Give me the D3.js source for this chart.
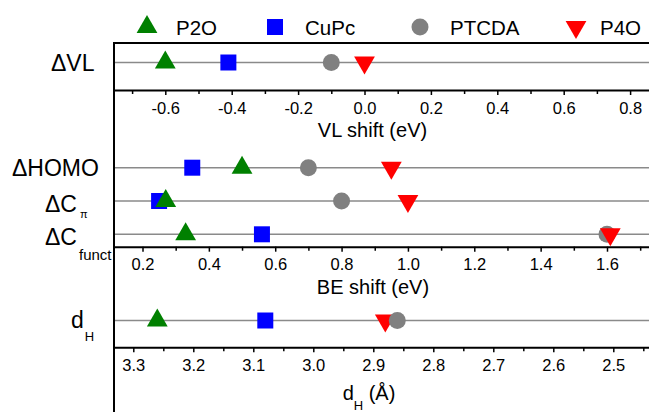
<!DOCTYPE html>
<html>
<head>
<meta charset="utf-8">
<script src="https://cdn.jsdelivr.net/npm/d3@7"></script>
<style>
  html, body { margin: 0; padding: 0; background: #fff; }
  svg { display: block; font-family: "Liberation Sans", Arial, sans-serif; }
</style>
</head>
<body>
<script>
// series (molecules) and their shifts
const series = ["P2O", "CuPc", "PTCDA", "P4O"];
const colors = ["#008000", "#0000ff", "#808080", "#ff0000"];

const vlShift = [-0.60, -0.41, -0.10, 0.00];
const beRows = ["HOMO", "Cpi", "Cfunct"];
const homoShift = [0.50, 0.35, 0.70, 0.95];
const cPiShift = [0.27, 0.25, 0.80, 1.00];
const cFunctShift = [0.33, 0.56, 1.60, 1.61];
const dH = [3.26, 3.08, 2.86, 2.88];

// tick labels
const vlTicks = [-0.6, -0.4, -0.2, 0.0, 0.2, 0.4, 0.6, 0.8];
const vlMinor = [-0.7, -0.5, -0.3, -0.1, 0.1, 0.3, 0.5, 0.7];
const beTicks = [0.2, 0.4, 0.6, 0.8, 1.0, 1.2, 1.4, 1.6];
const beMinor = [0.3, 0.5, 0.7, 0.9, 1.1, 1.3, 1.5, 1.7];
const dhTicks = [3.3, 3.2, 3.1, 3.0, 2.9, 2.8, 2.7, 2.6, 2.5];
const dhMinor = [3.25, 3.15, 3.05, 2.95, 2.85, 2.75, 2.65, 2.55, 2.45];

const width = 649;
const height = 412;
const plotL = 114;
const plotR = 649;

const svg = d3.select("body")
  .append("svg")
    .attr("width", width)
    .attr("height", height)
    .attr("viewBox", [0, 0, width, height]);

// x scales, widened out to the plot edges
function edgeScale(d0, d1, r0, r1) {
  const s = d3.scaleLinear().domain([d0, d1]).range([r0, r1]);
  return s.domain([s.invert(plotL), s.invert(plotR)]).range([plotL, plotR]);
}
const xVL = edgeScale(-0.6, 0.8, 165.3, 630.1);
const xBE = edgeScale(0.2, 1.6, 142.5, 607);
const xDH = edgeScale(3.3, 2.5, 133.3, 613.3);

// row positions
const yVL = d3.scalePoint().domain(["VL"]).range([43, 82]).padding(0.5);
const yBE = d3.scalePoint().domain(beRows).range([167.7, 234.3]);
const yDH = d3.scalePoint().domain(["dH"]).range([300, 341]).padding(0.5);

const symbols = [
  d3.symbol(d3.symbolTriangle, 187)(),
  d3.symbol(d3.symbolSquare, 256)(),
  d3.symbol(d3.symbolCircle, 227)(),
  d3.symbol(d3.symbolTriangle, 187)()
];
const rot = [0, 0, 0, 180];

// axis helper: labelled major ticks plus unlabelled minor ones
function drawAxis(x, y0, major, minor, fmt) {
  svg.append("g")
      .attr("transform", `translate(0,${y0})`)
      .call(d3.axisBottom(x).tickValues(minor).tickSize(4).tickSizeOuter(0).tickFormat(""))
      .call(g => g.select(".domain").remove())
      .call(g => g.selectAll(".tick line").attr("stroke-width", 1.5));
  svg.append("g")
      .attr("transform", `translate(0,${y0})`)
      .call(d3.axisBottom(x).tickValues(major).tickSize(5).tickSizeOuter(0).tickPadding(7).tickFormat(fmt))
      .call(g => g.select(".domain").attr("stroke-width", 2))
      .call(g => g.selectAll(".tick line").attr("stroke-width", 1.5))
      .call(g => g.selectAll(".tick text")
          .attr("font-size", 16.5)
          .attr("font-family", "Liberation Sans, Arial, sans-serif")
          .attr("fill", "#000"));
}

function drawRow(x, y, values, order) {
  svg.append("line")
      .attr("x1", plotL).attr("x2", plotR)
      .attr("y1", y).attr("y2", y)
      .attr("stroke", "#8a8a8a")
      .attr("stroke-width", 1.6);
  svg.append("g")
    .selectAll("path")
    .data(order)
    .join("path")
      .attr("d", i => symbols[i])
      .attr("fill", i => colors[i])
      .attr("transform", i => `translate(${x(values[i])},${y}) rotate(${rot[i]})`);
}

// plain hyphen for negatives, as in the original
const fmt1 = d => d3.format(".1f")(d).replace("−", "-");

// panel 1: VL shift
drawRow(xVL, yVL("VL"), vlShift, [1, 0, 2, 3]);
drawAxis(xVL, 90, vlTicks, vlMinor, fmt1);
svg.append("line")
    .attr("x1", plotL).attr("x2", plotR)
    .attr("y1", 43).attr("y2", 43)
    .attr("stroke", "#000").attr("stroke-width", 2);

// panel 2: BE shift
drawRow(xBE, yBE("HOMO"), homoShift, [1, 0, 2, 3]);
drawRow(xBE, yBE("Cpi"), cPiShift, [1, 0, 2, 3]);
drawRow(xBE, yBE("Cfunct"), cFunctShift, [1, 0, 2, 3]);
drawAxis(xBE, 246.7, beTicks, beMinor, fmt1);

// panel 3: dH
drawRow(xDH, yDH("dH"), dH, [1, 0, 3, 2]);
drawAxis(xDH, 347.3, dhTicks, dhMinor, fmt1);

// left axis
svg.append("line")
    .attr("x1", plotL).attr("x2", plotL)
    .attr("y1", 42).attr("y2", height)
    .attr("stroke", "#000").attr("stroke-width", 2);

// row labels
const lab = svg.append("g").attr("font-size", 23).attr("fill", "#000");
lab.append("text").attr("x", 51).attr("y", yVL("VL") + 8.5).text("ΔVL");
lab.append("text").attr("x", 12).attr("y", yBE("HOMO") + 8).text("ΔHOMO");
const tPi = lab.append("text").attr("x", 45).attr("y", yBE("Cpi") + 11);
tPi.append("tspan").text("ΔC");
tPi.append("tspan").attr("font-size", 11).attr("dx", 3).attr("dy", 6).text("π");
const tF = lab.append("text").attr("x", 45).attr("y", yBE("Cfunct") + 10.5);
tF.append("tspan").text("ΔC");
tF.append("tspan").attr("font-size", 15).attr("dx", 2).attr("dy", 15).text("funct");
const tD = lab.append("text").attr("x", 71).attr("y", yDH("dH") + 7.5);
tD.append("tspan").text("d");
tD.append("tspan").attr("font-size", 13).attr("dx", 1).attr("dy", 13).text("H");

// axis titles
const ttl = svg.append("g").attr("font-size", 20).attr("fill", "#000").attr("text-anchor", "middle");
ttl.append("text").attr("x", 372.5).attr("y", 137).text("VL shift (eV)");
ttl.append("text").attr("x", 373).attr("y", 294).text("BE shift (eV)");
const tdh = ttl.append("text").attr("x", 369).attr("y", 400);
tdh.append("tspan").text("d");
tdh.append("tspan").attr("font-size", 13).attr("dy", 10).text("H");
tdh.append("tspan").attr("dy", -10).text(" (Å)");

// legend
const legX = d3.scaleOrdinal().domain(series).range([147, 275, 420, 576]);
const leg = svg.append("g")
  .selectAll("g")
  .data(series)
  .join("g")
    .attr("transform", d => `translate(${legX(d)},27)`);
leg.append("path")
    .attr("d", (d, i) => symbols[i])
    .attr("fill", (d, i) => colors[i])
    .attr("transform", (d, i) => `rotate(${rot[i]})`);
leg.append("text")
    .attr("x", (d, i) => [29, 30, 30, 24][i])
    .attr("y", 7.5)
    .attr("font-size", 20.5)
    .attr("fill", "#000")
    .text(d => d);
</script>
</body>
</html>
